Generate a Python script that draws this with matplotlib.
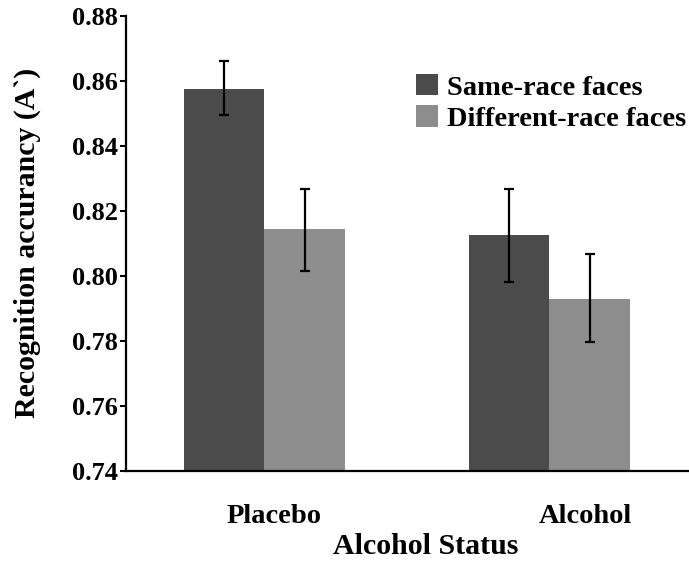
import matplotlib
matplotlib.use('Agg')
import matplotlib.pyplot as plt
import numpy as np

# condition groups and series
groups = ['Placebo', 'Alcohol']
series = ['Same-race faces', 'Different-race faces']
same_race = [0.8575, 0.8125]
diff_race = [0.8145, 0.7927]
same_err_lo = [0.8495, 0.7980]
same_err_hi = [0.8660, 0.8267]
diff_err_lo = [0.8015, 0.7797]
diff_err_hi = [0.8267, 0.8066]
yticks = [0.74, 0.76, 0.78, 0.80, 0.82, 0.84, 0.86, 0.88]

plt.rcParams['font.family'] = ['Liberation Serif', 'DejaVu Serif']
plt.rcParams['font.weight'] = 'bold'

fig = plt.figure(figsize=(6.89, 5.65), dpi=100)
ax = fig.add_axes([0.1829, 0.1669, 0.8171, 0.8053])

x = np.arange(len(groups))
w = 0.2825
dark = '#4b4b4b'
light = '#8d8d8d'

def errs(vals, lo, hi):
    v = np.array(vals)
    return [v - np.array(lo), np.array(hi) - v]

ax.bar(x - w / 2, same_race, w, color=dark, label=series[0], zorder=2)
ax.bar(x + w / 2, diff_race, w, color=light, label=series[1], zorder=2)
ax.errorbar(x - w / 2, same_race, yerr=errs(same_race, same_err_lo, same_err_hi),
            fmt='none', ecolor='black', elinewidth=1.6, capsize=3.5, capthick=1.6, zorder=3)
ax.errorbar(x + w / 2, diff_race, yerr=errs(diff_race, diff_err_lo, diff_err_hi),
            fmt='none', ecolor='black', elinewidth=1.6, capsize=3.5, capthick=1.6, zorder=3)

ax.set_ylim(0.74, 0.88)
ax.set_xlim(-0.485, 1.49)
ax.set_yticks(yticks)
ax.set_yticklabels(['%.2f' % t for t in yticks], fontsize=19, fontweight='bold')
# group labels sit a little right of the bar pairs
ax.set_xticks([0.034, 1.125])
ax.set_xticklabels(groups, fontsize=20.5, fontweight='bold')
ax.tick_params(axis='x', length=0, pad=24)
ax.tick_params(axis='y', length=4, width=1.5, pad=2)

ax.set_ylabel('Recognition accurancy (A`)', fontsize=21.5, fontweight='bold', labelpad=22)
ax.set_xlabel('Alcohol Status', fontsize=21.5, fontweight='bold')
ax.xaxis.set_label_coords(0.533, -0.137)

ax.spines['top'].set_visible(False)
ax.spines['right'].set_visible(False)
ax.spines['left'].set_linewidth(1.6)
ax.spines['bottom'].set_linewidth(1.6)

leg = fig.legend(loc='upper left', bbox_to_anchor=(416 / 689, 1 - 74 / 565),
                 frameon=False, fontsize=20.5, handlelength=0.78, handleheight=0.78,
                 handletextpad=0.3, labelspacing=0.17, borderpad=0, borderaxespad=0)

plt.savefig('out.png', dpi=100)
